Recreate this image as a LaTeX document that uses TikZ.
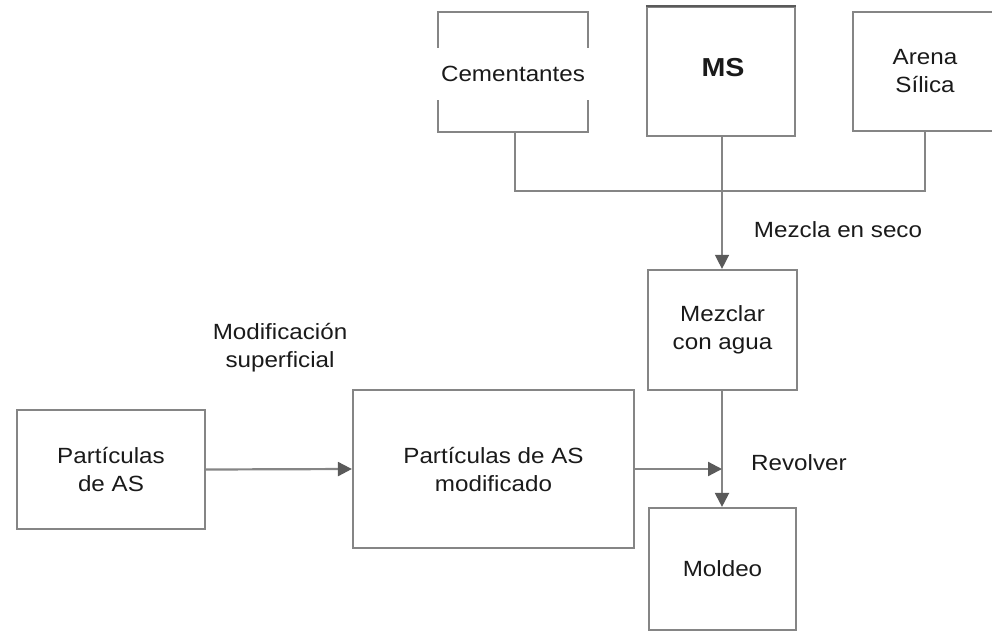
\documentclass[tikz,border=0pt]{standalone}
\usepackage{fontspec}
\setmainfont[FakeStretch=1.1]{Liberation Sans}
\usetikzlibrary{arrows.meta}
\definecolor{linegray}{HTML}{858585}
\definecolor{tipgray}{HTML}{5A5A5A}
\definecolor{txt}{HTML}{1A1A1A}
\begin{document}
\begin{tikzpicture}[x=1pt,y=-1pt,
  every node/.style={font=\fontsize{22}{28}\selectfont, text=txt, align=center},
  box/.style={draw=linegray, line width=2.2pt, rectangle, inner sep=0pt},
  conn/.style={draw=linegray, line width=2.2pt},
  flow/.style={conn, -{Triangle[length=14pt,width=14pt,color=tipgray]}},
  lbl/.style={inner sep=0pt}
]
\useasboundingbox (0,0) rectangle (992,632);
% boxes
\node[box, minimum width=150pt, minimum height=120pt] (cem) at (513,72) {};
\node[fill=white, minimum width=162pt, minimum height=52pt, inner sep=0pt] (cemt) at (513,74) {Cementantes};
\node[box, minimum width=148pt, minimum height=129pt] (ms) at (721,71.5) {};
\node[inner sep=0pt, font=\fontsize{26}{30}\selectfont\bfseries] (mst) at (723,68) {MS};
\draw[draw=tipgray, line width=2.6pt] (ms.north west) -- (ms.north east);
\node[box, minimum width=144pt, minimum height=119pt] (arena) at (925,71.5) {Arena\\Sílica};
\node[box, minimum width=149pt, minimum height=120pt] (mez) at (722.5,330) {Mezclar\\con agua};
\node[box, minimum width=188pt, minimum height=119pt] (part) at (111,469.5) {Partículas\\de AS};
\node[box, minimum width=281pt, minimum height=158pt] (mod) at (493.5,469) {Partículas de AS\\modificado};
\node[box, minimum width=147pt, minimum height=122pt] (mol) at (722.5,569) {Moldeo};
% connectors
\coordinate (j) at (722,191);
\draw[conn] (cem.south -| 515,0) |- (j) -| (arena.south);
\draw[conn] (ms.south -| j) -- (j);
\draw[flow, line width=1.4pt] (j) -- (mez.north -| j);
\draw[flow] (mez.south -| j) -- (mol.north -| j);
\draw[flow] (part.east) -- (mod.west);
\draw[flow] (mod.east) -- (mod.east -| j);
% labels
\node[lbl] (l1) at (838,230) {Mezcla en seco};
\node[lbl, anchor=west] (l2) at (751,463) {Revolver};
\node[lbl] (l3) at (280,348) {Modificación\\superficial};
\end{tikzpicture}
\end{document}
